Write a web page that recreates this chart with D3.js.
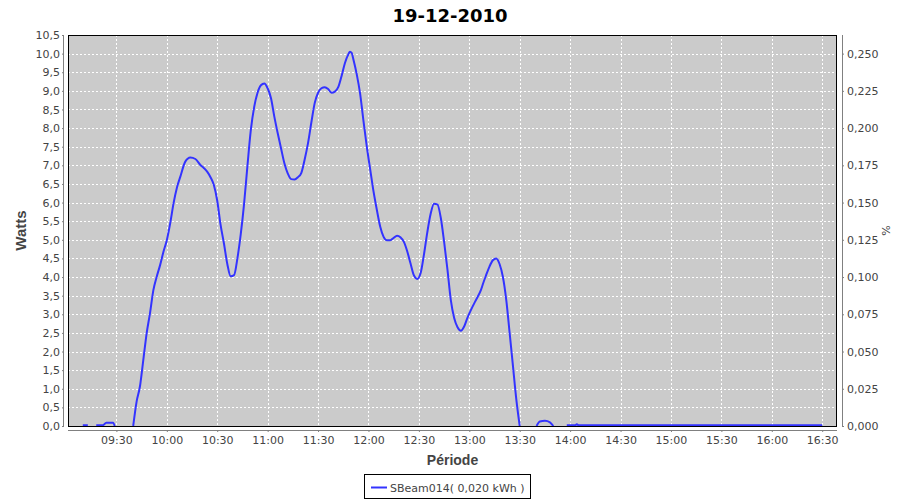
<!DOCTYPE html>
<html><head><meta charset="utf-8">
<script src="https://cdn.jsdelivr.net/npm/d3@7"></script>
<style>
body{margin:0;background:#fff;}
svg text{font-family:"DejaVu Sans",sans-serif;}
</style></head>
<body><svg id="c" width="900" height="500"></svg>
<script>
const title = "19-12-2010";
const seriesName = "SBeam014( 0,020 kWh )";
const times = ["09:10","09:13","09:14","09:18","09:22","09:24","09:28","09:29","09:35",
"09:40","09:42","09:44","09:46","09:48","09:50","09:52","09:54","09:56","09:58",
"10:00","10:02","10:04","10:06","10:08","10:11","10:14","10:17","10:20","10:22","10:24","10:26","10:28",
"10:30","10:32","10:34","10:36","10:38","10:40","10:42","10:44","10:46","10:48","10:50","10:52","10:54","10:56","10:58",
"11:00","11:02","11:04","11:06","11:08","11:10","11:12","11:14","11:16","11:18","11:20","11:22","11:24","11:26","11:28",
"11:30","11:32","11:34","11:36","11:38","11:40","11:42","11:44","11:46","11:48","11:49","11:50","11:51","11:53","11:55","11:57","11:59",
"12:01","12:03","12:05","12:07","12:09","12:11","12:13","12:15","12:17","12:19","12:21","12:23","12:25","12:27","12:29",
"12:31","12:33","12:35","12:37","12:39","12:41","12:43","12:45","12:47","12:49","12:51","12:53","12:55","12:57","12:59",
"13:01","13:03","13:05","13:07","13:08","13:10","13:12","13:14","13:16","13:18","13:20","13:22","13:24","13:26","13:28","13:30","13:32",
"13:40","13:42","13:45","13:48","13:50","13:52",
"13:58","14:03","14:04","14:05","14:30","15:00","15:30","16:00","16:30"];
const watts = [0.02,0.02,null,0.02,0.02,0.09,0.09,0.0,null,
0.0,0.65,1.06,1.77,2.49,3.03,3.65,4.01,4.32,4.68,
4.99,5.44,5.98,6.40,6.69,7.10,7.21,7.17,7.01,6.93,6.83,6.68,6.47,
6.05,5.40,4.90,4.35,4.02,4.05,4.50,5.15,5.98,7.00,7.95,8.57,8.95,9.15,9.20,
9.07,8.80,8.30,7.86,7.45,7.05,6.78,6.63,6.62,6.68,6.79,7.15,7.59,8.15,8.67,
8.95,9.07,9.10,9.05,8.95,8.98,9.10,9.40,9.75,9.98,10.05,10.02,9.85,9.45,8.93,8.20,7.50,
6.90,6.30,5.80,5.35,5.08,4.99,4.99,5.05,5.11,5.07,4.95,4.70,4.37,4.05,3.95,
4.10,4.60,5.20,5.70,5.97,5.95,5.60,4.95,4.20,3.38,2.90,2.65,2.56,2.68,2.92,
3.12,3.30,3.47,3.66,3.80,4.05,4.28,4.45,4.50,4.35,4.00,3.38,2.50,1.60,0.70,0.0,null,
0.0,0.12,0.14,0.10,0.0,null,
0.02,0.02,0.05,0.02,0.02,0.02,0.02,0.02,0.02];
const xTicks = ["09:30","10:00","10:30","11:00","11:30","12:00","12:30","13:00","13:30","14:00","14:30","15:00","15:30","16:00","16:30"];
const yTicks = d3.range(0, 10.51, 0.5);
const pctTicks = [0,0.025,0.05,0.075,0.1,0.125,0.15,0.175,0.2,0.225,0.25];
const xDomain = ["09:01:12","16:38:48"];
const yMax = 10.5, pctMax = 0.2625;

const day = "2010-12-19T";
const pt = s => new Date(day + (s.length===5 ? s+":00" : s));
const L=68, R=837, T=35, B=426;
const svg = d3.select("#c");
const x = d3.scaleTime().domain(xDomain.map(pt)).range([L,R]);
const y = d3.scaleLinear().domain([0,yMax]).range([B,T]);
const y2 = d3.scaleLinear().domain([0,pctMax]).range([B,T]);
const comma = f => v => d3.format(f)(v).replace(".",",");

svg.append("text").attr("x",450).attr("y",22).attr("text-anchor","middle")
  .style("font-size","18px").style("font-weight","bold").attr("fill","#000").text(title);

svg.append("rect").attr("x",L).attr("y",T).attr("width",R-L).attr("height",B-T).attr("fill","#cbcbcb");

const g = svg.append("g");
g.selectAll(".vg").data(xTicks).join("line")
  .attr("x1",d=>Math.round(x(pt(d)))+0.5).attr("x2",d=>Math.round(x(pt(d)))+0.5)
  .attr("y1",T).attr("y2",B).attr("stroke","#fff").attr("stroke-dasharray","2,2");
g.selectAll(".hg").data(yTicks.slice(1)).join("line")
  .attr("y1",d=>Math.round(y(d))+0.5).attr("y2",d=>Math.round(y(d))+0.5)
  .attr("x1",L).attr("x2",R).attr("stroke","#fff").attr("stroke-dasharray","2,2");

const data = times.map((t,i)=>({t:pt(t),v:watts[i]}));
const line = d3.line().defined(d=>d.v!==null).x(d=>x(d.t)).y(d=>y(d.v)).curve(d3.curveMonotoneX);
svg.append("path").datum(data).attr("d",line).attr("fill","none")
  .attr("stroke","#3333ff").attr("stroke-width",2);

svg.append("rect").attr("x",L+0.5).attr("y",T+0.5).attr("width",R-L-1).attr("height",B-T).attr("fill","none").attr("stroke","#000").attr("stroke-width",1);

// x axis
const xa = svg.append("g").attr("transform",`translate(0,${B+4})`)
  .call(d3.axisBottom(x).tickValues(xTicks.map(pt)).tickFormat(d3.timeFormat("%H:%M")).tickSize(2).tickPadding(4));
// y left
const ya = svg.append("g").attr("transform",`translate(${L-4},0)`)
  .call(d3.axisLeft(y).tickValues(yTicks).tickFormat(comma(".1f")).tickSize(2).tickPadding(2));
// y right
const y2a = svg.append("g").attr("transform",`translate(${R+5},0)`)
  .call(d3.axisRight(y2).tickValues(pctTicks).tickFormat(comma(".3f")).tickSize(2).tickPadding(3));
[xa,ya,y2a].forEach(a=>{
  a.selectAll("path").attr("stroke","#808080").attr("stroke-width",1);
  a.selectAll("line").attr("stroke","#808080");
  a.selectAll("text").attr("fill","#444").style("font-size","11px").style("font-family","DejaVu Sans");
});
xa.select("path").attr("d",`M${L},0.5H${R}`);
ya.select("path").attr("d",`M-0.5,${T}V${B}`);
y2a.select("path").attr("d",`M0.5,${T}V${B}`);

svg.append("text").attr("x",(L+R)/2).attr("y",465).attr("text-anchor","middle")
  .style("font-family","Liberation Sans").style("font-size","14px").style("font-weight","bold").attr("fill","#444").text("Période");
svg.append("text").attr("transform",`translate(26,${(T+B)/2}) rotate(-90)`).attr("text-anchor","middle")
  .style("font-family","Liberation Sans").style("font-size","15px").style("font-weight","bold").attr("fill","#444").text("Watts");
svg.append("text").attr("transform",`translate(890,${(T+B)/2}) rotate(-90)`).attr("text-anchor","middle")
  .style("font-size","11px").attr("fill","#444").text("%");

// legend
const lg = svg.append("g");
lg.append("rect").attr("x",364.5).attr("y",474.5).attr("width",166).attr("height",24).attr("fill","#fff").attr("stroke","#000");
lg.append("line").attr("x1",371).attr("x2",387).attr("y1",487.5).attr("y2",487.5).attr("stroke","#3333ff").attr("stroke-width",2);
lg.append("text").attr("x",390).attr("y",491.5).style("font-size","11px").attr("fill","#444").text(seriesName);
</script></body></html>
